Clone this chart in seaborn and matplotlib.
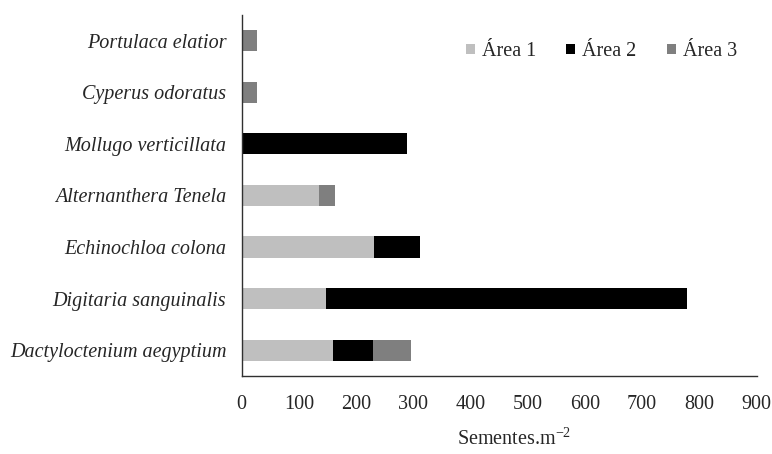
import matplotlib
matplotlib.use("Agg")
import matplotlib.pyplot as plt
from matplotlib.patches import Patch
import seaborn as sns
import pandas as pd
import numpy as np

species = ["Portulaca elatior", "Cyperus odoratus", "Mollugo verticillata",
           "Alternanthera Tenela", "Echinochloa colona", "Digitaria sanguinalis",
           "Dactyloctenium aegyptium"]
area1 = [0, 0, 0, 136, 232, 148, 159]
area2 = [0, 0, 289, 0, 79, 630, 70]
area3 = [27, 27, 0, 28, 0, 0, 67]
series_names = ["Área 1", "Área 2", "Área 3"]
colors = ["#bfbfbf", "#000000", "#7f7f7f"]
xticks = [0, 100, 200, 300, 400, 500, 600, 700, 800, 900]

sns.set_theme(style="white")
plt.rcParams["font.family"] = ["Liberation Serif", "DejaVu Serif"]

df = pd.DataFrame({"species": species, "a1": area1, "a2": area2, "a3": area3})
df["c1"] = df["a1"]
df["c2"] = df["a1"] + df["a2"]
df["c3"] = df["a1"] + df["a2"] + df["a3"]

fs = 14.5
fig = plt.figure(figsize=(7.72, 4.54), dpi=100)
ax = fig.add_axes([0.313, 0.172, 0.667, 0.795])

for col, c in zip(["c3", "c2", "c1"], [colors[2], colors[1], colors[0]]):
    sns.barplot(data=df, x=col, y="species", order=species, orient="h",
                color=c, width=0.41, saturation=1, ax=ax, linewidth=0)

ax.set_xlim(0, 900)
ax.set_ylim(6.5, -0.5)
ax.set_xticks(xticks)
ax.set_xticklabels([str(t) for t in xticks], fontsize=fs, color="#262626")
ax.set_yticklabels(species, fontsize=fs, style="italic", color="#262626")
ax.tick_params(axis="x", length=0, pad=14)
ax.tick_params(axis="y", length=0, pad=11)
ax.set_ylabel("")
ax.set_xlabel("Sementes.m$^{\\mathregular{-2}}$", fontsize=fs, color="#262626",
              labelpad=10, x=0.529)

for s in ["top", "right"]:
    ax.spines[s].set_visible(False)
for s in ["left", "bottom"]:
    ax.spines[s].set_color("#303030")
    ax.spines[s].set_linewidth(1.0)

handles = [Patch(facecolor=c, edgecolor="none") for c in colors]
ax.legend(handles, series_names, ncol=3, frameon=False, fontsize=fs,
          loc="upper right", bbox_to_anchor=(0.997, 0.975),
          handlelength=0.45, handleheight=0.45, handletextpad=0.35,
          columnspacing=1.5, labelcolor="#262626")

fig.savefig("out.png", dpi=100, facecolor="white")
